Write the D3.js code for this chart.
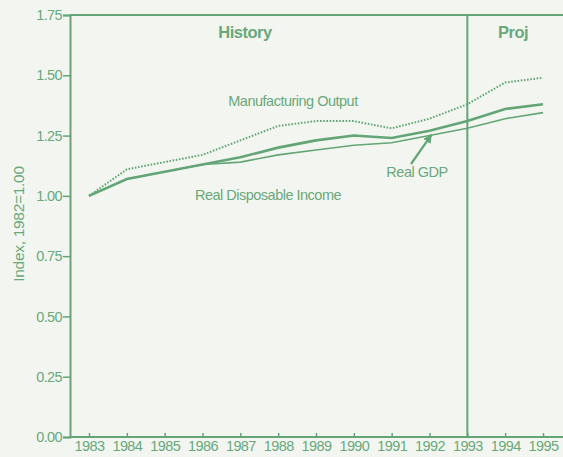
<!DOCTYPE html>
<html>
<head>
<meta charset="utf-8">
<script src="https://cdn.jsdelivr.net/npm/d3@7"></script>
<style>
  body { margin:0; background:#f3f6f0; }
  svg { display:block; font-family:"Liberation Sans", Arial, sans-serif; }
</style>
</head>
<body>
<script>
// data
var years   = [1983,1984,1985,1986,1987,1988,1989,1990,1991,1992,1993,1994,1995];
var mfgOut  = [1.00,1.11,1.14,1.17,1.23,1.29,1.31,1.31,1.28,1.32,1.38,1.47,1.49];
var realGdp = [1.00,1.07,1.10,1.13,1.16,1.20,1.23,1.25,1.24,1.27,1.31,1.36,1.38];
var realInc = [1.00,1.07,1.10,1.13,1.14,1.17,1.19,1.21,1.22,1.25,1.28,1.32,1.345];
var yTicks  = [0,0.25,0.5,0.75,1,1.25,1.5,1.75];
var projYear = 1993;

var W=563, H=457;
var green="#63a576", txt="#6aa87c";
var m={left:70, top:15, bottom:437};

var svg=d3.select("body").append("svg").attr("width",W).attr("height",H);

var x=d3.scaleLinear().domain([1983,1995]).range([89,543]);
var y=d3.scaleLinear().domain([0,1.75]).range([m.bottom,m.top]);

// frame //{{{
svg.append("line").attr("x1",m.left).attr("x2",W).attr("y1",m.top).attr("y2",m.top)
	.attr("stroke",green).attr("stroke-width",2);
svg.append("line").attr("x1",x(projYear)).attr("x2",x(projYear)).attr("y1",m.top).attr("y2",m.bottom)
	.attr("stroke",green).attr("stroke-width",2);
//}}}
// axes //{{{
var yAxis=svg.append("g").attr("transform","translate("+m.left+",0)")
	.call(d3.axisLeft(y).tickValues(yTicks).tickFormat(d3.format(".2f")).tickSize(7).tickPadding(1));
var xAxis=svg.append("g").attr("transform","translate(0,"+m.bottom+")")
	.call(d3.axisBottom(x).tickValues(years).tickFormat(d3.format("d")).tickSize(-4).tickPadding(4));
xAxis.select(".domain").attr("d","M"+m.left+",0H"+W);
[yAxis,xAxis].forEach(function(a){
	a.select(".domain").attr("stroke",green).attr("stroke-width",2);
	a.selectAll(".tick line").attr("stroke",green).attr("stroke-width",1.5);
	a.selectAll(".tick text").attr("fill",txt).attr("font-size",14.5).style("letter-spacing","-0.6px");
});
svg.append("text").attr("transform","translate(24,224) rotate(-90)")
	.attr("text-anchor","middle").attr("fill",txt).attr("font-size",15.5).style("letter-spacing","-0.3px")
	.text("Index, 1982=1.00");
//}}}
// lines //{{{
function series(vals){ return years.map(function(d,i){ return [d,vals[i]]; }); }
var line=d3.line().x(function(d){return x(d[0]);}).y(function(d){return y(d[1]);});
svg.append("path").attr("d",line(series(realInc))).attr("fill","none")
	.attr("stroke",green).attr("stroke-width",1.6);
svg.append("path").attr("d",line(series(realGdp))).attr("fill","none")
	.attr("stroke",green).attr("stroke-width",2.6);
svg.append("path").attr("d",line(series(mfgOut))).attr("fill","none")
	.attr("stroke",green).attr("stroke-width",2).attr("stroke-dasharray","1.6,1.6");
//}}}
// labels //{{{
function label(t,cx,cy,bold){
	svg.append("text").attr("x",cx).attr("y",cy).attr("text-anchor","middle")
		.attr("fill",txt).attr("font-size",bold?16.5:14.5).attr("font-weight",bold?"bold":"normal")
		.style("letter-spacing","-0.5px").text(t);
}
label("History",245,38,true);
label("Proj",513,38,true);
label("Manufacturing Output",293,106);
label("Real GDP",417,177);
label("Real Disposable Income",268,200);
svg.append("defs").append("marker").attr("id","ah").attr("viewBox","0 0 10 10")
	.attr("refX",9).attr("refY",5).attr("markerWidth",4).attr("markerHeight",4).attr("orient","auto")
	.append("path").attr("d","M0,0L10,5L0,10z").attr("fill",green);
svg.append("line").attr("x1",411).attr("y1",164).attr("x2",x(1992.05)).attr("y2",y(1.265)+3)
	.attr("stroke",green).attr("stroke-width",2.2).attr("marker-end","url(#ah)");
//}}}
</script>
</body>
</html>
